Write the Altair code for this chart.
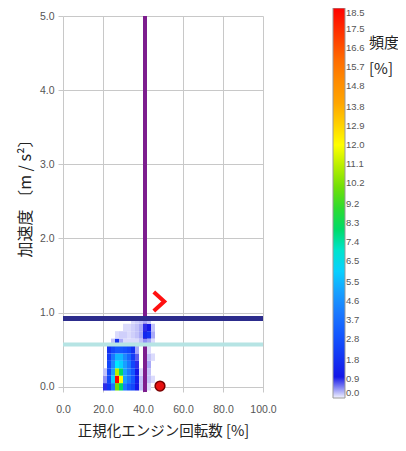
import altair as alt
import pandas as pd

# ---- data ----
x_centers = [21, 23, 25, 27, 29, 31, 33, 35, 37, 39, 41, 43, 45, 47]
y_centers = [0.0, 0.1, 0.2, 0.3, 0.4, 0.5, 0.6, 0.7, 0.8, 0.9]
freq_y00 = [0.8, 2.0, 4.0, 10.0, 8.0, 4.0, 3.0, 2.5, 1.0, 0.2, 0.0, 0.1, 0.0, 0.0]
freq_y01 = [0.4, 2.5, 6.0, 18.5, 12.0, 5.0, 4.0, 3.0, 1.2, 0.2, 0.0, 0.2, 0.1, 0.0]
freq_y02 = [0.2, 2.5, 5.0, 11.0, 8.0, 5.0, 4.0, 3.0, 1.0, 0.1, 0.0, 0.2, 0.0, 0.0]
freq_y03 = [0.0, 2.5, 4.5, 6.5, 6.0, 5.0, 4.0, 2.5, 0.8, 0.0, 0.0, 0.3, 0.0, 0.0]
freq_y04 = [0.0, 2.2, 4.0, 5.5, 5.5, 4.5, 3.5, 2.2, 0.6, 0.0, 0.0, 0.2, 0.1, 0.0]
freq_y05 = [0.0, 1.8, 2.5, 3.0, 3.0, 2.8, 2.5, 1.8, 0.3, 0.0, 0.0, 0.1, 0.0, 0.0]
freq_y06 = [0.0, 0.0, 0.2, 1.8, 0.3, 0.1, 0.1, 0.1, 0.1, 0.2, 0.4, 0.3, 0.1, 0.0]
freq_y07 = [0.0, 0.0, 0.0, 0.1, 0.15, 0.15, 0.1, 0.15, 0.2, 0.3, 1.5, 1.8, 0.3, 0.0]
freq_y08 = [0.0, 0.0, 0.0, 0.0, 0.0, 0.1, 0.1, 0.15, 0.2, 0.3, 0.8, 1.0, 0.2, 0.0]
freq_y09 = [0.0, 0.0, 0.0, 0.0, 0.0, 0.0, 0.0, 0.1, 0.15, 0.2, 0.3, 0.2, 0.0, 0.0]
freq_rows = [freq_y00, freq_y01, freq_y02, freq_y03, freq_y04,
             freq_y05, freq_y06, freq_y07, freq_y08, freq_y09]

rpm_limit = [41.0]
accel_upper = [0.92]
accel_lower = [0.57]
chevron_x = [48.0]
chevron_y = [1.15]
circle_x = [48.5]
circle_y = [0.01]

x_ticks = [0, 20, 40, 60, 80, 100]
y_ticks = [0, 1, 2, 3, 4, 5]
legend_ticks = [0.0, 0.9, 1.8, 2.8, 3.7, 4.6, 5.5, 6.5, 7.4, 8.3, 9.2,
                10.2, 11.1, 12.0, 12.9, 13.8, 14.8, 15.7, 16.6, 17.5, 18.5]
legend_title = ["頻度", "[%]"]

color_stops = [0, 0.9, 2.8, 4.6, 6.5, 8.3, 10.2, 12.0, 13.8, 15.7, 18.5]
color_range = ["#f4f4ff", "#1414e6", "#1250ff", "#1e8cff", "#00e8ff", "#00d84a",
               "#7ee000", "#ffff00", "#ffaa00", "#ff7a00", "#ff0000"]

# ---- tables ----
cells = pd.DataFrame(
    [{"rpm": x, "acc": y, "freq": f}
     for y, row in zip(y_centers, freq_rows)
     for x, f in zip(x_centers, row)]
)

JP = "Noto Sans CJK JP"
LBL = "Liberation Sans"

xscale = alt.Scale(domain=[0, 100], nice=False)
yscale = alt.Scale(domain=[-0.07, 5.0], nice=False)
xaxis = alt.Axis(values=x_ticks, format=".1f", title="正規化エンジン回転数 [%]",
                 tickSize=0, labelPadding=12, titlePadding=10, titleFontSize=14.5,
                 labelOverlap=False, labelFlush=False)
yaxis = alt.Axis(values=y_ticks, format=".1f", title="加速度 〔m / s²〕",
                 tickSize=5, labelPadding=4, titlePadding=6, titleFontSize=16,
                 titleY=178, labelOverlap=False)


def X(field):
    return alt.X(field, scale=xscale, axis=xaxis)


def Y(field):
    return alt.Y(field, scale=yscale, axis=yaxis)


heat = alt.Chart(cells).transform_filter(
    "datum.freq > 0"
).transform_calculate(
    x0="datum.rpm - 1", x1="datum.rpm + 1",
    y0="datum.acc - 0.05", y1="datum.acc + 0.05"
).mark_rect().encode(
    x=X("x0:Q"), x2="x1:Q",
    y=Y("y0:Q"), y2="y1:Q",
    color=alt.Color(
        "freq:Q",
        scale=alt.Scale(domain=color_stops, range=color_range, interpolate="rgb"),
        legend=alt.Legend(
            title=None, values=legend_ticks, format=".1f",
            orient="none", legendX=270, legendY=-8, direction="vertical",
            gradientLength=390, gradientThickness=12,
            gradientStrokeColor="#999", gradientStrokeWidth=1,
            labelFontSize=9.5, labelColor="#555", labelFont=LBL, labelOverlap=False,
            labelOffset=1, padding=0,
        ),
    ),
)

legend_label = alt.Chart(pd.DataFrame({"k": [0]})).mark_text(
    align="left", baseline="top", font=JP, fontSize=15, lineHeight=26, color="#222"
).encode(x=alt.value(306), y=alt.value(20), text=alt.value(legend_title))

vline = alt.Chart(pd.DataFrame({"rpm": rpm_limit})).mark_rule(
    color="#7d1d8e", strokeWidth=4).encode(x=X("rpm:Q"))
cyan = alt.Chart(pd.DataFrame({"acc": accel_lower})).mark_rule(
    color="#b6e4e4", strokeWidth=4).encode(y=Y("acc:Q"))
navy = alt.Chart(pd.DataFrame({"acc": accel_upper})).mark_rule(
    color="#2c2c8c", strokeWidth=5).encode(y=Y("acc:Q"))

chev = alt.Chart(pd.DataFrame({"rpm": chevron_x, "acc": chevron_y})).mark_point(
    shape="M-0.55,-1L0.55,0L-0.55,1", filled=False, stroke="#ff1010",
    strokeWidth=4, size=360, opacity=1, strokeJoin="miter"
).encode(x=X("rpm:Q"), y=Y("acc:Q"))

dot = alt.Chart(pd.DataFrame({"rpm": circle_x, "acc": circle_y})).mark_point(
    shape="circle", filled=True, fill="#e81010", stroke="#7a0000",
    strokeWidth=1.5, size=95, opacity=1
).encode(x=X("rpm:Q"), y=Y("acc:Q"))

chart = alt.layer(vline, heat, cyan, navy, chev, dot, legend_label).properties(
    width=200, height=376,
    autosize=alt.AutoSizeParams(type="none"),
    padding={"left": 55, "top": 8, "right": 135, "bottom": 51},
    background="white",
).configure_view(stroke=None).configure_axis(
    gridColor="#c8c8c8", gridWidth=1, tickColor="#c8c8c8", domain=False,
    labelFont=LBL, labelFontSize=10.5, labelColor="#555", labelOverlap=False,
    titleFont=JP, titleFontWeight="normal", titleColor="#222",
)

chart.save("out.html", embed_options={"renderer": "svg", "actions": False})
